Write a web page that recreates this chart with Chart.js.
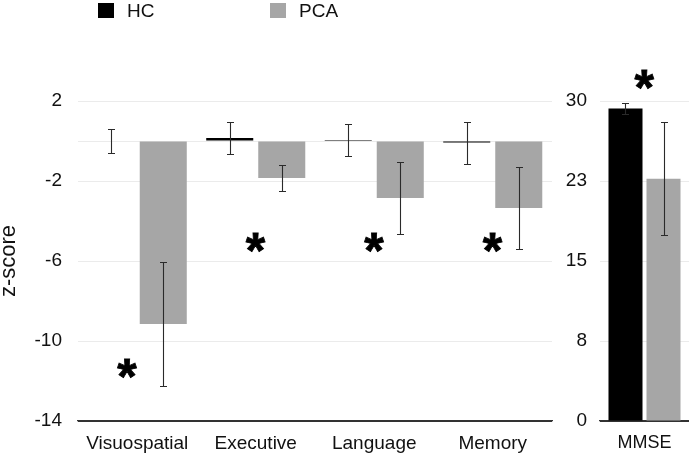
<!DOCTYPE html>
<html>
<head>
<meta charset="utf-8">
<script src="https://cdn.jsdelivr.net/npm/chart.js@4"></script>
<style>
html, body { margin: 0; padding: 0; background: #fff; }
#wrap { position: relative; width: 689px; height: 456px; }
#zWrap { position: absolute; left: 0; top: 0; width: 560px; height: 456px; }
#mWrap { position: absolute; left: 555px; top: 0; width: 134px; height: 456px; }
</style>
</head>
<body>
<div id="wrap">
  <div id="zWrap"><canvas id="zChart"></canvas></div>
  <div id="mWrap"><canvas id="mChart"></canvas></div>
</div>
<script>
// cognitive domains, z-scores
const domains = ['Visuospatial', 'Executive', 'Language', 'Memory'];
const hcZ = [0, 0.15, 0.05, -0.08];
const hcZErr = [0.6, 0.78, 0.8, 1.05];
const pcaZ = [-9.15, -1.85, -2.85, -3.35];
const pcaZErr = [3.1, 0.65, 1.8, 2.05];
const zTicks = [-14, -10, -6, -2, 2];
const zStarAt = [-11.35, -5.05, -5.05, -5.05];

// MMSE raw scores
const mmseLabel = ['MMSE'];
const hcMmse = [29.3];
const hcMmseErr = [0.5];
const pcaMmse = [22.7];
const pcaMmseErr = [5.3];
const mmseTicks = ['0', '8', '15', '23', '30'];
const mmseStarAt = [32];

const family = '"Liberation Sans", Arial, Helvetica, sans-serif';
const hcColor = '#000000';
const pcaColor = '#a6a6a6';

Chart.defaults.font.family = family;
Chart.defaults.color = '#111';

const errorBars = {
  id: 'errorBars',
  afterDatasetsDraw(chart) {
    const ctx = chart.ctx;
    const y = chart.scales.y;
    ctx.save();
    ctx.strokeStyle = '#2a2a2a';
    ctx.lineWidth = 1.1;
    chart.data.datasets.forEach((ds, di) => {
      const meta = chart.getDatasetMeta(di);
      meta.data.forEach((bar, i) => {
        const v = ds.data[i], e = ds.errors[i];
        const top = Math.round(y.getPixelForValue(v + e)) + 0.5;
        const bot = Math.round(y.getPixelForValue(v - e)) + 0.5;
        const x = Math.round(bar.x) + 0.5;
        ctx.beginPath();
        ctx.moveTo(x, top); ctx.lineTo(x, bot);
        ctx.moveTo(x - 3.5, top); ctx.lineTo(x + 3.5, top);
        ctx.moveTo(x - 3.5, bot); ctx.lineTo(x + 3.5, bot);
        ctx.stroke();
      });
    });
    ctx.restore();
  }
};

const stars = {
  id: 'stars',
  afterDraw(chart, args, opts) {
    const ctx = chart.ctx;
    ctx.save();
    ctx.font = 'bold 50px ' + family;
    ctx.fillStyle = '#000';
    ctx.strokeStyle = '#000';
    ctx.lineWidth = 0.8;
    ctx.textAlign = 'left';
    ctx.textBaseline = 'alphabetic';
    const m = ctx.measureText('*');
    const dy = (m.actualBoundingBoxAscent - m.actualBoundingBoxDescent) / 2;
    const dx = (m.actualBoundingBoxRight - m.actualBoundingBoxLeft) / 2;
    opts.at.forEach((v, i) => {
      const x = chart.scales.x.getPixelForValue(i) + (opts.shift ? opts.shift[i] : 0);
      const y = chart.scales.y.getPixelForValue(v);
      ctx.fillText('*', x - dx, y + dy);
      ctx.strokeText('*', x - dx, y + dy);
    });
    ctx.restore();
  }
};

const topLegend = {
  id: 'topLegend',
  afterDraw(chart, args, opts) {
    if (!opts.x) return;
    const ctx = chart.ctx;
    ctx.save();
    ctx.font = '19px ' + family;
    ctx.textBaseline = 'middle';
    chart.data.datasets.forEach((ds, i) => {
      const x = opts.x[i];
      ctx.fillStyle = ds.backgroundColor;
      ctx.fillRect(x, 3, 16, 15);
      ctx.fillStyle = '#111';
      ctx.fillText(ds.label, x + 29, 11.5);
    });
    ctx.restore();
  }
};

new Chart(document.getElementById('zChart'), {
  type: 'bar',
  data: {
    labels: domains,
    datasets: [
      { label: 'HC', data: hcZ, errors: hcZErr, backgroundColor: hcColor,
        categoryPercentage: 0.878, barPercentage: 0.904 },
      { label: 'PCA', data: pcaZ, errors: pcaZErr, backgroundColor: pcaColor,
        categoryPercentage: 0.878, barPercentage: 0.904 }
    ]
  },
  options: {
    responsive: true,
    maintainAspectRatio: false,
    animation: false,
    layout: { padding: { top: 101, right: 8, left: 0, bottom: 0 } },
    plugins: {
      legend: { display: false },
      tooltip: { enabled: false },
      topLegend: { x: [98, 270] },
      stars: { at: zStarAt, shift: [-10, 0, 0, 0] }
    },
    scales: {
      x: {
        grid: { display: false },
        border: { display: true, color: '#333', width: 1.3 },
        ticks: { font: { size: 19 }, color: '#111', padding: 3, maxRotation: 0 },
        afterFit(s) { s.height = 35; }
      },
      y: {
        min: -14,
        max: 2,
        afterBuildTicks(s) {
          s.ticks = [-14, -10, -6, -2, 0, 2].map(v => ({ value: v }));
        },
        ticks: {
          callback: v => zTicks.includes(v) ? String(v) : '',
          font: { size: 19 }, color: '#111', padding: 16
        },
        grid: {
          color: c => c.tick && c.tick.value === -14 ? '#333' : '#ebebeb',
          lineWidth: 1,
          drawTicks: false
        },
        border: { display: false },
        title: {
          display: true, text: 'z-score', color: '#111', padding: 0,
          font: { size: 22, lineHeight: 0.82 }
        },
        afterFit(s) { s.width = 78; }
      }
    }
  },
  plugins: [errorBars, stars, topLegend]
});

new Chart(document.getElementById('mChart'), {
  type: 'bar',
  data: {
    labels: mmseLabel,
    datasets: [
      { label: 'HC', data: hcMmse, errors: hcMmseErr, backgroundColor: hcColor,
        categoryPercentage: 0.854, barPercentage: 0.895 },
      { label: 'PCA', data: pcaMmse, errors: pcaMmseErr, backgroundColor: pcaColor,
        categoryPercentage: 0.854, barPercentage: 0.895 }
    ]
  },
  options: {
    responsive: true,
    maintainAspectRatio: false,
    animation: false,
    layout: { padding: { top: 101, right: 0, left: 0, bottom: 0 } },
    plugins: {
      legend: { display: false },
      tooltip: { enabled: false },
      stars: { at: mmseStarAt }
    },
    scales: {
      x: {
        grid: { display: false },
        border: { display: true, color: '#333', width: 1.3 },
        ticks: { font: { size: 18 }, color: '#111', padding: 3, maxRotation: 0 },
        afterFit(s) { s.height = 35; }
      },
      y: {
        min: 0,
        max: 30,
        ticks: {
          stepSize: 7.5,
          callback: (v, i) => mmseTicks[i],
          font: { size: 19 }, color: '#111', padding: 13
        },
        grid: {
          color: c => c.tick && c.tick.value === 0 ? '#333' : '#ebebeb',
          lineWidth: 1,
          drawTicks: false
        },
        border: { display: false },
        afterFit(s) { s.width = 45; }
      }
    }
  },
  plugins: [errorBars, stars]
});
</script>
</body>
</html>
